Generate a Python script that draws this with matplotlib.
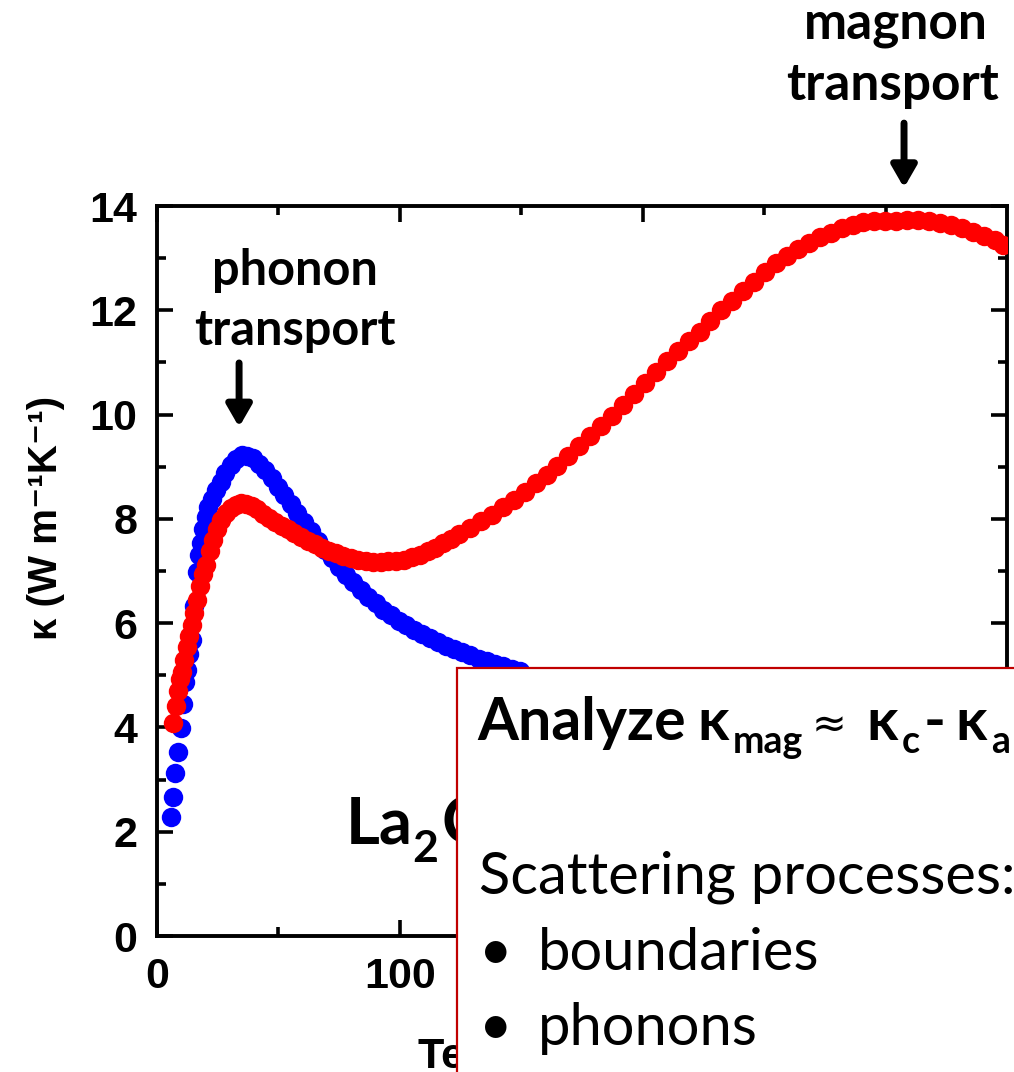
import numpy as np
import matplotlib
matplotlib.use("Agg")
import matplotlib.pyplot as plt
from matplotlib.patches import Rectangle
from matplotlib.transforms import Affine2D

# ---- thermal conductivity of La2CuO4 ----
# kappa along a (blue) and along c (red), W m^-1 K^-1 vs temperature in K
T_a = [5.6, 6.4, 7.4, 8.5, 9.7, 10.6, 11.5, 12.4, 13.3, 14.3, 15.3, 16.3, 17.2,
       18.1, 19.1, 20.1, 21.1, 22.5, 24.3, 26.2, 28.2, 30.3, 32.5, 34.8, 37.2,
       39.6, 42.1, 44.6, 47.2, 49.8, 52.4, 55.1, 57.8, 60.6, 63.4, 66.2, 69.1,
       72.0, 74.9, 77.9, 80.9, 83.9, 87.0, 90.1, 93.2, 96.3, 99.5, 102.7, 105.9,
       109.1, 112.4, 115.7, 119.0, 122.3, 125.6, 129.0, 132.4, 135.8, 139.2,
       142.6, 146.0, 149.5]
kappa_a = [2.29, 2.67, 3.12, 3.52, 3.98, 4.45, 4.88, 5.10, 5.40, 5.68, 6.32,
           6.99, 7.30, 7.54, 7.80, 8.04, 8.22, 8.39, 8.55, 8.71, 8.88, 9.03,
           9.15, 9.22, 9.21, 9.16, 9.06, 8.93, 8.78, 8.62, 8.45, 8.28, 8.11,
           7.94, 7.76, 7.58, 7.41, 7.24, 7.08, 6.93, 6.78, 6.64, 6.51, 6.38,
           6.26, 6.15, 6.05, 5.96, 5.87, 5.79, 5.71, 5.64, 5.57, 5.50, 5.44,
           5.38, 5.32, 5.27, 5.22, 5.17, 5.12, 5.08]

T_c = [6.7, 7.8, 8.8, 9.5, 10.2, 11.2, 12.2, 13.2, 14.3, 15.3, 16.4, 17.7, 18.9,
       20.2, 21.8, 23.2, 24.6, 26.4, 28.5, 30.4, 32.5, 34.6, 36.8, 39.0, 41.3,
       43.7, 46.2, 48.7, 51.3, 53.9, 56.6, 59.3, 62.1, 64.9, 67.8, 70.7, 73.7,
       76.7, 79.7, 82.8, 85.9, 89.0, 92.1, 95.3, 98.5, 101.7, 104.9, 108.1,
       111.4, 114.6, 117.9, 121.2, 124.5, 128.9, 133.4, 137.9, 142.4, 146.9,
       151.4, 155.9, 160.4, 164.9, 169.4, 173.9, 178.4, 182.9, 187.4, 191.9,
       196.4, 200.9, 205.4, 209.9, 214.4, 218.9, 223.4, 227.9, 232.4, 236.9,
       241.4, 245.9, 250.4, 254.9, 259.4, 263.9, 268.4, 272.9, 277.4, 281.9,
       286.4, 290.9, 295.4, 299.9, 304.4, 308.9, 313.4, 317.9, 322.4, 326.9,
       331.4, 335.9, 340.4, 344.9, 348.4]
kappa_c = [4.08, 4.41, 4.70, 4.92, 5.06, 5.30, 5.54, 5.76, 5.96, 6.20, 6.45,
           6.72, 6.95, 7.12, 7.38, 7.60, 7.80, 7.98, 8.12, 8.21, 8.27, 8.30,
           8.29, 8.24, 8.18, 8.10, 8.02, 7.94, 7.87, 7.80, 7.73, 7.66, 7.58,
           7.51, 7.45, 7.39, 7.34, 7.29, 7.25, 7.22, 7.20, 7.18, 7.18, 7.19,
           7.20, 7.22, 7.26, 7.31, 7.38, 7.45, 7.53, 7.62, 7.71, 7.82, 7.95,
           8.08, 8.22, 8.37, 8.52, 8.68, 8.85, 9.02, 9.20, 9.39, 9.58, 9.78,
           9.98, 10.19, 10.40, 10.61, 10.82, 11.02, 11.22, 11.41, 11.59, 11.79,
           12.00, 12.18, 12.37, 12.55, 12.73, 12.90, 13.05, 13.18, 13.30, 13.40,
           13.49, 13.57, 13.64, 13.69, 13.72, 13.72, 13.72, 13.73, 13.73, 13.71,
           13.68, 13.64, 13.58, 13.51, 13.43, 13.34, 13.26]

x_major = [0, 100, 200, 300]
x_minor = [50, 150, 250]
y_major = [0, 2, 4, 6, 8, 10, 12, 14]
y_minor = [1, 3, 5, 7, 9, 11, 13]

W, H = 1014, 1072
plt.rcParams['font.family'] = ['Liberation Sans', 'DejaVu Sans']
plt.rcParams['font.weight'] = 'bold'

fig = plt.figure(figsize=(W / 100, H / 100), dpi=100, facecolor='white')
ax = fig.add_axes([157 / W, (H - 936) / H, (1007 - 157) / W, (936 - 206) / H])

ax.plot(T_a, kappa_a, 'o', color='#0000ff', ms=14, mec='none', zorder=3)
ax.plot(T_c, kappa_c, 'o', color='#ff0000', ms=14, mec='none', zorder=4)

ax.set_xlim(0, 350)
ax.set_ylim(0, 14)
ax.set_xticks(x_major)
ax.set_xticks(x_minor, minor=True)
ax.set_yticks(y_major)
ax.set_yticks(y_minor, minor=True)
ax.tick_params(which='both', direction='in', top=True, right=True,
               width=2.6, color='black')
ax.tick_params(which='major', length=11.5, labelsize=31)
ax.tick_params(axis='y', which='major', pad=14)
ax.tick_params(axis='x', which='major', pad=15)
ax.tick_params(which='minor', length=6.5)
for sp in ax.spines.values():
    sp.set_linewidth(2.8)

ax.set_xlabel('Temperature (K)', fontsize=31, fontweight='bold')
ax.xaxis.set_label_coords(0.5, (936 - 1068) / 730)
ax.xaxis.label.set_va('baseline')

ax.set_ylabel('κ (W m⁻¹K⁻¹)', fontsize=29, fontweight='bold')
ax.yaxis.set_label_coords((46 - 157) / 850, (936 - 518) / 730)
ax.yaxis.label.set_va('center')
ax.yaxis.label.set_ha('center')

# peak markers
label_font = ['Lato', 'DejaVu Sans']
i_a = int(np.argmax(kappa_a))
i_c = int(np.argmax(kappa_c))
arrow_kw = dict(arrowstyle='-|>,head_length=13,head_width=7.5', lw=5,
                color='black', shrinkA=0, shrinkB=0, mutation_scale=1)
ax.annotate('', xy=(T_a[i_a] - 1.0, kappa_a[i_a] + 0.54),
            xytext=(T_a[i_a] - 1.0, kappa_a[i_a] + 1.77),
            arrowprops=arrow_kw, annotation_clip=False)
ax.text(56.6, 12.49, 'phonon', ha='center', va='baseline', fontsize=35,
        family=label_font, fontweight='bold', clip_on=False)
ax.text(56.6, 11.34, 'transport', ha='center', va='baseline', fontsize=35,
        family=label_font, fontweight='bold', clip_on=False)

ax.annotate('', xy=(T_c[i_c] - 1.3, kappa_c[i_c] + 0.62),
            xytext=(T_c[i_c] - 1.3, kappa_c[i_c] + 1.86),
            arrowprops=arrow_kw, annotation_clip=False)
ax.text(304.4, 17.22, 'magnon', ha='center', va='baseline', fontsize=37,
        family=label_font, fontweight='bold', clip_on=False)
ax.text(303.0, 16.03, 'transport', ha='center', va='baseline', fontsize=37,
        family=label_font, fontweight='bold', clip_on=False)

# pixel coordinates measured from the top-left corner of the figure
px = Affine2D().scale(1 / 100, -1 / 100).translate(0, H / 100) + fig.dpi_scale_trans


def put(x, y, s, size, weight='bold', z=6, family=None):
    return fig.text(x, y, s, transform=px, fontsize=size, fontweight=weight,
                    family=family or label_font, ha='left', va='baseline',
                    zorder=z)


# compound name
put(346, 843, 'La', 47, z=4)
put(412, 862, '2', 32, z=4)
put(442, 843, 'CuO', 47, z=4)
put(560, 862, '4', 32, z=4)

# text panel
fig.add_artist(Rectangle((457, 668), 700, 500, transform=px, facecolor='white',
                         edgecolor='#c00000', lw=1.6, zorder=5))
put(477, 740, 'Analyze', 42.5)
put(697, 740, 'κ', 42.5)
put(733, 753, 'mag', 27)
put(812, 737, '≈', 30, weight='normal', family=['DejaVu Sans'])
put(866, 740, 'κ', 42.5)
put(902, 753, 'c', 27)
put(924, 740, '-', 42.5)
put(955, 740, 'κ', 42.5)
put(991, 753, 'a', 27)

put(479, 893, 'Scattering processes:', 41.7, weight='normal')
put(479, 970, '•', 41.7, weight='normal')
put(538, 970, 'boundaries', 41.7, weight='normal')
put(479, 1045, '•', 41.7, weight='normal')
put(538, 1045, 'phonons', 41.7, weight='normal')

fig.savefig('out.png', dpi=100, facecolor='white')
